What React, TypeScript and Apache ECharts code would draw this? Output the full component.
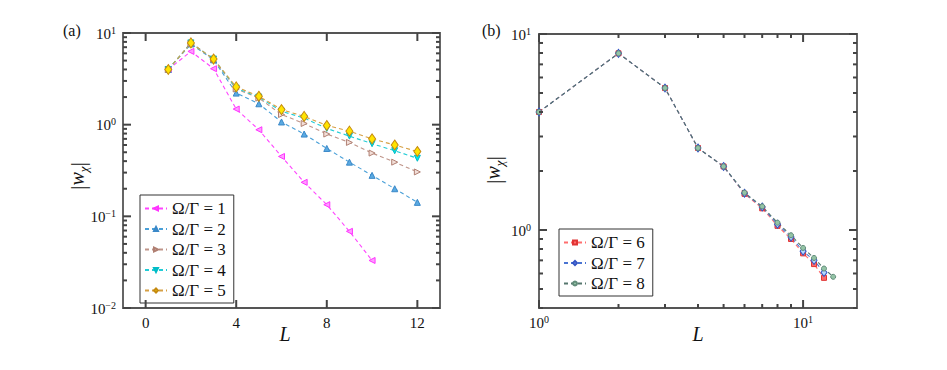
import React, { useEffect, useRef } from 'react';
import * as echarts from 'echarts';

// Panel (a): |w_chi| vs L, log y
const namesA = ['Ω/Γ = 1', 'Ω/Γ = 2', 'Ω/Γ = 3', 'Ω/Γ = 4', 'Ω/Γ = 5'];
const s1 = [4.0, 6.3, 4.08, 1.48, 0.88, 0.45, 0.235, 0.134, 0.0686, 0.033];
const s2 = [4.0, 7.6, 5.1, 2.21, 1.69, 1.07, 0.79, 0.55, 0.39, 0.28, 0.2, 0.142];
const s3 = [4.0, 7.7, 5.2, 2.45, 1.95, 1.29, 1.03, 0.79, 0.64, 0.49, 0.39, 0.305];
const s4 = [4.0, 7.8, 5.2, 2.5, 2.0, 1.4, 1.18, 0.91, 0.75, 0.62, 0.52, 0.43];
const s5 = [4.0, 7.8, 5.2, 2.58, 2.04, 1.46, 1.23, 0.98, 0.85, 0.70, 0.60, 0.51];

// Panel (b): log-log
const namesB = ['Ω/Γ = 6', 'Ω/Γ = 7', 'Ω/Γ = 8'];
const s6 = [4.0, 7.97, 5.3, 2.62, 2.11, 1.53, 1.29, 1.05, 0.90, 0.76, 0.67, 0.57];
const s7 = [4.0, 7.97, 5.3, 2.62, 2.11, 1.54, 1.31, 1.07, 0.92, 0.78, 0.70, 0.607];
const s8 = [4.0, 7.97, 5.3, 2.62, 2.11, 1.55, 1.32, 1.09, 0.94, 0.81, 0.72, 0.636, 0.577];

// Tick values
const xTicksA = [0, 4, 8, 12];
const yMajorA = [0.01, 0.1, 1, 10];
const yMinorA = [0.02, 0.03, 0.04, 0.05, 0.06, 0.07, 0.08, 0.09, 0.2, 0.3, 0.4, 0.5, 0.6, 0.7, 0.8, 0.9, 2, 3, 4, 5, 6, 7, 8, 9];
const xMajorB = [1, 10];
const xMinorB = [2, 3, 4, 5, 6, 7, 8, 9];
const yMajorB = [1, 10];
const yMinorB = [0.4, 0.5, 0.6, 0.7, 0.8, 0.9, 2, 3, 4, 5, 6, 7, 8, 9];

const FONT = 'Liberation Serif';
const AXC = '#555555';
const TICKC = '#444444';
const TXT = '#111111';

const toXY = (arr: number[]) => arr.map((v, i) => [i + 1, v]);

const powLabel = (v: number) => {
  const e = Math.round(Math.log10(v));
  return '{b|10}{sup|' + (e < 0 ? '−' + -e : String(e)) + '}';
};

const labelRich = {
  b: { fontSize: 15, fontFamily: FONT, color: TXT, verticalAlign: 'bottom', lineHeight: 16 },
  sup: { fontSize: 10, fontFamily: FONT, color: TXT, verticalAlign: 'top', lineHeight: 16 },
};

const noTick = { show: false };

// inward tick marks on both sides of the frame, placed through the axis scales
function tickSeries(xi: number, yi: number, dir: 'x' | 'y', ref: number, values: number[], len: number) {
  return {
    type: 'custom',
    coordinateSystem: 'cartesian2d',
    xAxisIndex: xi,
    yAxisIndex: yi,
    silent: true,
    clip: false,
    z: 5,
    data: values.map((v) => (dir === 'y' ? [ref, v] : [v, ref])),
    renderItem: (params: any, api: any) => {
      const cs = params.coordSys;
      const p = api.coord([api.value(0), api.value(1)]);
      const style = { stroke: TICKC, lineWidth: 2 };
      if (dir === 'y') {
        const y = p[1];
        return {
          type: 'group',
          children: [
            { type: 'line', shape: { x1: cs.x, y1: y, x2: cs.x + len, y2: y }, style },
            { type: 'line', shape: { x1: cs.x + cs.width - len, y1: y, x2: cs.x + cs.width, y2: y }, style },
          ],
        };
      }
      const x = p[0];
      return {
        type: 'group',
        children: [
          { type: 'line', shape: { x1: x, y1: cs.y + cs.height, x2: x, y2: cs.y + cs.height - len }, style },
          { type: 'line', shape: { x1: x, y1: cs.y, x2: x, y2: cs.y + len }, style },
        ],
      };
    },
  };
}

function lineSeries(name: string, data: number[][], xi: number, yi: number, color: string, symbol: string,
  size: any, fill: string, border: string, rotate = 0) {
  return {
    type: 'line',
    name,
    xAxisIndex: xi,
    yAxisIndex: yi,
    data,
    symbol,
    symbolSize: size,
    symbolRotate: rotate,
    showAllSymbol: true,
    lineStyle: { color, width: 1.1, type: [4, 3] },
    itemStyle: { color: fill, borderColor: border, borderWidth: 1 },
    emphasis: { disabled: true },
    z: 2,
  };
}

const yNameRich = {
  w: { fontFamily: FONT, fontStyle: 'italic', fontSize: 20, fill: TXT },
  s: { fontFamily: FONT, fontStyle: 'italic', fontSize: 13, fill: TXT, verticalAlign: 'bottom', lineHeight: 26 },
  bar: { fontFamily: FONT, fontSize: 22, fill: TXT },
};
const yNameText = '{bar||}{w|w}{s|χ}{bar||}';

export default function App() {
  const ref = useRef<HTMLDivElement>(null);
  useEffect(() => {
    if (!ref.current) return;
    const chart = echarts.init(ref.current, null, { renderer: 'svg' });
    const legendCommon = {
      orient: 'vertical', itemWidth: 22, itemHeight: 5, itemGap: 3.5,
      padding: [5, 8, 4, 4], borderColor: '#333', borderWidth: 1, backgroundColor: '#fff',
      textStyle: { fontFamily: FONT, fontSize: 17, color: TXT, lineHeight: 16 },
    };
    const option: any = {
      animation: false,
      backgroundColor: '#ffffff',
      textStyle: { fontFamily: FONT },
      grid: [
        { left: 123, top: 33, width: 317, height: 275, show: true, borderColor: AXC, borderWidth: 1.8, backgroundColor: 'transparent' },
        { left: 539, top: 34, width: 318, height: 274, show: true, borderColor: AXC, borderWidth: 1.8, backgroundColor: 'transparent' },
      ],
      xAxis: [
        {
          type: 'value', gridIndex: 0, min: -1, max: 13,
          axisLine: { show: false }, axisTick: noTick, splitLine: { show: false },
          axisLabel: { show: true, customValues: xTicksA, fontFamily: FONT, fontSize: 15, color: TXT, margin: 7 },
        },
        {
          type: 'log', logBase: 10, gridIndex: 1, min: 1, max: 16,
          axisLine: { show: false }, axisTick: noTick, splitLine: { show: false },
          axisLabel: { show: true, customValues: xMajorB, formatter: powLabel, margin: 6, rich: labelRich },
        },
      ],
      yAxis: [
        {
          type: 'log', logBase: 10, gridIndex: 0, min: 0.01, max: 10,
          axisLine: { show: false }, axisTick: noTick, splitLine: { show: false },
          axisLabel: { show: true, customValues: yMajorA, formatter: powLabel, margin: 7, rich: labelRich },
        },
        {
          type: 'log', logBase: 10, gridIndex: 1, min: 0.4, max: 10,
          axisLine: { show: false }, axisTick: noTick, splitLine: { show: false },
          axisLabel: { show: true, customValues: yMajorB, formatter: powLabel, margin: 8, rich: labelRich },
        },
      ],
      legend: [
        { ...legendCommon, data: namesA, left: 140, top: 195 },
        { ...legendCommon, data: namesB, left: 559, top: 229 },
      ],
      series: [
        tickSeries(0, 0, 'x', 1, xTicksA, 8),
        tickSeries(0, 0, 'y', 0, yMajorA, 8),
        tickSeries(0, 0, 'y', 0, yMinorA, 4),
        tickSeries(1, 1, 'x', 1, xMajorB, 8),
        tickSeries(1, 1, 'x', 1, xMinorB, 4),
        tickSeries(1, 1, 'y', 2, yMajorB, 8),
        tickSeries(1, 1, 'y', 2, yMinorB, 4),
        lineSeries(namesA[0], toXY(s1), 0, 0, '#ff44ff', 'triangle', 6, '#ff9cff', '#ff33ff', 90),
        lineSeries(namesA[1], toXY(s2), 0, 0, '#4aa0d8', 'triangle', 6, '#5aaae2', '#3a88c8', 0),
        lineSeries(namesA[2], toXY(s3), 0, 0, '#bf958a', 'triangle', 6, '#f2dfd9', '#b07f72', -90),
        lineSeries(namesA[3], toXY(s4), 0, 0, '#22ccd6', 'triangle', 6, '#00e6ee', '#00bcc6', 180),
        lineSeries(namesA[4], toXY(s5), 0, 0, '#d6a044', 'diamond', [7, 10], '#ffe400', '#c58a10', 0),
        lineSeries(namesB[0], toXY(s6), 1, 1, '#ff6e6e', 'rect', 5, '#ff6a6a', '#e03434', 0),
        lineSeries(namesB[1], toXY(s7), 1, 1, '#4a74d2', 'diamond', [6, 8], '#b4d8ff', '#3454c4', 0),
        lineSeries(namesB[2], toXY(s8), 1, 1, '#56776e', 'circle', 5, '#94c4a6', '#628c7a', 0),
      ],
      graphic: [
        { type: 'text', left: 63, top: 22, style: { text: '(a)', fontFamily: FONT, fontSize: 16, fill: TXT } },
        { type: 'text', left: 482, top: 22, style: { text: '(b)', fontFamily: FONT, fontSize: 16, fill: TXT } },
        { type: 'text', x: 285, y: 334, style: { text: 'L', fontFamily: FONT, fontStyle: 'italic', fontSize: 20, fill: TXT, align: 'center', verticalAlign: 'middle' } },
        { type: 'text', x: 698, y: 334, style: { text: 'L', fontFamily: FONT, fontStyle: 'italic', fontSize: 20, fill: TXT, align: 'center', verticalAlign: 'middle' } },
        {
          type: 'text', x: 77, y: 176, rotation: Math.PI / 2,
          style: { text: yNameText, rich: yNameRich, align: 'center', verticalAlign: 'middle', fontFamily: FONT, fontSize: 20, fill: TXT },
        },
        {
          type: 'text', x: 493, y: 170, rotation: Math.PI / 2,
          style: { text: yNameText, rich: yNameRich, align: 'center', verticalAlign: 'middle', fontFamily: FONT, fontSize: 20, fill: TXT },
        },
      ],
    };
    chart.setOption(option);
    return () => chart.dispose();
  }, []);
  return <div ref={ref} style={{ position: 'fixed', left: 0, top: 0, width: 947, height: 370 }} />;
}
